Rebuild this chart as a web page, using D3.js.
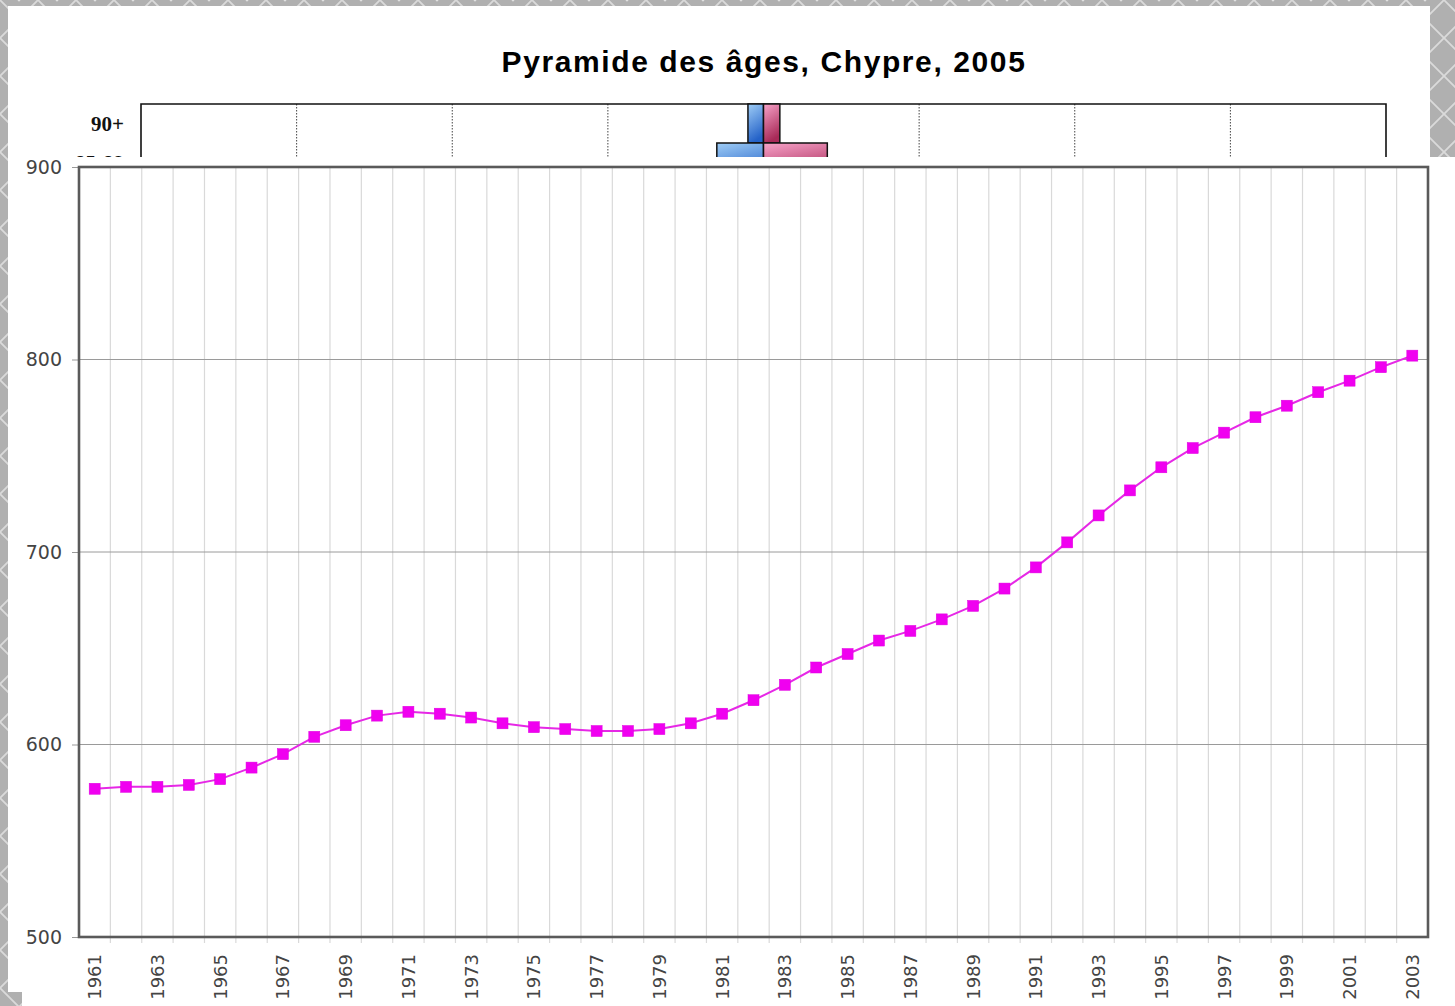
<!DOCTYPE html>
<html>
<head>
<meta charset="utf-8">
<script src="https://cdn.jsdelivr.net/npm/d3@7"></script>
<style>
  html, body { margin: 0; padding: 0; background: #b5b5b5; }
  svg { display: block; }
</style>
</head>
<body>
<svg id="chart" width="1455" height="1006"></svg>
<script>
// ---------------- DATA ----------------
const years = [1961,1962,1963,1964,1965,1966,1967,1968,1969,1970,
               1971,1972,1973,1974,1975,1976,1977,1978,1979,1980,
               1981,1982,1983,1984,1985,1986,1987,1988,1989,1990,
               1991,1992,1993,1994,1995,1996,1997,1998,1999,2000,
               2001,2002,2003];
const population = [577,578,578,579,582,588,595,604,610,615,
                    617,616,614,611,609,608,607,607,608,611,
                    616,623,631,640,647,654,659,665,672,681,
                    692,705,719,732,744,754,762,770,776,783,
                    789,796,802];
const yTicks = [500,600,700,800,900];
const xTickLabels = years.filter((d, i) => i % 2 === 0);

const pyramidTitle = "Pyramide des âges, Chypre, 2005";
const pyramidAges = ["90+", "85-89"];
const pyramidMale = [0.10, 0.30];
const pyramidFemale = [0.105, 0.41];
const pyramidTicks = [-4,-3,-2,-1,0,1,2,3,4];

// ---------------- DRAW ----------------
(function () {
const svg = d3.select("#chart");
const defs = svg.append("defs");

// background crosshatch pattern
const pat = defs.append("pattern").attr("id","bg").attr("patternUnits","userSpaceOnUse")
  .attr("width",38).attr("height",38);
pat.append("rect").attr("width",38).attr("height",38).attr("fill","#b0b0b0");
pat.append("path").attr("d","M0,0L38,38M38,0L0,38")
  .attr("stroke","#dadada").attr("stroke-width",1.8).attr("fill","none");
pat.append("circle").attr("cx",19).attr("cy",0).attr("r",1.4).attr("fill","#e0e0e0");
pat.append("circle").attr("cx",19).attr("cy",38).attr("r",1.4).attr("fill","#e0e0e0");
svg.append("rect").attr("width",1455).attr("height",1006).attr("fill","url(#bg)");

// gradients for pyramid bars
function grad(id, c1, c2) {
  const g = defs.append("linearGradient").attr("id", id)
    .attr("x1",0).attr("y1",0).attr("x2",0.3).attr("y2",1);
  g.append("stop").attr("offset","0%").attr("stop-color",c1);
  g.append("stop").attr("offset","100%").attr("stop-color",c2);
}
grad("gMale", "#9fcdf6", "#2462c8");
grad("gFemale", "#f7a3c9", "#a82a58");

// ---- pyramid panel (behind) ----
const pyr = svg.append("g");
pyr.append("rect").attr("x",8).attr("y",6).attr("width",1422).attr("height",986).attr("fill","#ffffff");
pyr.append("text").attr("x",764).attr("y",72).attr("text-anchor","middle")
  .attr("font-family","'Liberation Sans', Arial, sans-serif").attr("font-weight","bold")
  .attr("font-size",30).attr("letter-spacing","1.6px").attr("fill","#000").text(pyramidTitle);

const px = d3.scaleLinear().domain([-4,4]).range([141,1386]);
const py = d3.scaleBand().domain(pyramidAges).range([104, 104 + 39*pyramidAges.length]).padding(0);

// dotted grid
pyr.selectAll("line.pg").data(pyramidTicks.filter(t => t !== -4 && t !== 4 && t !== 0)).join("line")
  .attr("x1", d => px(d)).attr("x2", d => px(d)).attr("y1",104).attr("y2",180)
  .attr("stroke","#444").attr("stroke-width",1).attr("stroke-dasharray","1.5,1.5");
// frame
pyr.append("path").attr("d", `M${px(-4)},180V104H${px(4)}V180`).attr("fill","none")
  .attr("stroke","#111").attr("stroke-width",1.6);
// bars
pyr.selectAll("rect.m").data(pyramidAges).join("rect")
  .attr("x", (d,i) => px(-pyramidMale[i])).attr("y", d => py(d))
  .attr("width", (d,i) => px(0) - px(-pyramidMale[i])).attr("height", py.bandwidth())
  .attr("fill","url(#gMale)").attr("stroke","#111").attr("stroke-width",1.5);
pyr.selectAll("rect.f").data(pyramidAges).join("rect")
  .attr("x", px(0)).attr("y", d => py(d))
  .attr("width", (d,i) => px(pyramidFemale[i]) - px(0)).attr("height", py.bandwidth())
  .attr("fill","url(#gFemale)").attr("stroke","#111").attr("stroke-width",1.5);
// age labels
pyr.selectAll("text.age").data(pyramidAges).join("text")
  .attr("x",124).attr("y", d => py(d) + py.bandwidth()/2 + 7).attr("text-anchor","end")
  .attr("font-family","'Liberation Serif', 'Times New Roman', serif").attr("font-weight","bold")
  .attr("font-size",21).attr("fill","#111").text(d => d);

// ---- line chart panel (front) ----
const lc = svg.append("g");
lc.append("rect").attr("x",22).attr("y",157).attr("width",1433).attr("height",849).attr("fill","#ffffff");

const pL = 79, pR = 1428, pT = 167, pB = 937;
const x = d3.scaleBand().domain(years).range([pL, pR]).padding(0);
const y = d3.scaleLinear().domain([500,900]).range([pB, pT]);

// vertical grid at band boundaries
const bounds = years.slice(1).map(d => x(d));
lc.selectAll("line.vg").data(bounds).join("line")
  .attr("x1", d => d).attr("x2", d => d).attr("y1", pT).attr("y2", pB + 6)
  .attr("stroke","#d9d9d9").attr("stroke-width",1.2);
// horizontal grid
lc.selectAll("line.hg").data(yTicks.slice(1,-1)).join("line")
  .attr("x1", pL).attr("x2", pR).attr("y1", d => y(d)).attr("y2", d => y(d))
  .attr("stroke","#9a9a9a").attr("stroke-width",1);

// y axis
const yAxis = lc.append("g").attr("transform",`translate(${pL},0)`)
  .call(d3.axisLeft(y).tickValues(yTicks).tickSize(7).tickPadding(10));
yAxis.select(".domain").remove();
yAxis.selectAll(".tick line").attr("stroke","#999");
yAxis.selectAll(".tick text").attr("font-family","'DejaVu Sans', Verdana, sans-serif")
  .attr("font-size",19).attr("fill","#444");

// x axis labels (odd years)
const xAxis = lc.append("g").attr("transform",`translate(0,${pB})`)
  .call(d3.axisBottom(x).tickValues(xTickLabels).tickSize(0).tickPadding(0));
xAxis.select(".domain").remove();
xAxis.selectAll(".tick text")
  .attr("font-family","'DejaVu Sans', Verdana, sans-serif").attr("font-size",18).attr("fill","#444")
  .attr("text-anchor","end").attr("transform","rotate(-90)")
  .attr("x",-17).attr("y",0).attr("dy","0.36em");

// frame
lc.append("rect").attr("x",pL).attr("y",pT).attr("width",pR-pL).attr("height",pB-pT)
  .attr("fill","none").attr("stroke","#5a5a5a").attr("stroke-width",2.6);

// line + markers
const cx = d => x(d) + x.bandwidth()/2;
const line = d3.line().x((d,i) => cx(years[i])).y(d => y(d));
lc.append("path").datum(population).attr("d", line).attr("fill","none")
  .attr("stroke","#e628e6").attr("stroke-width",2);
lc.selectAll("rect.pt").data(population).join("rect")
  .attr("x",(d,i) => cx(years[i]) - 5.5).attr("y", d => y(d) - 5.5)
  .attr("width",11).attr("height",11).attr("fill","#f000f0").attr("stroke","#e000e0").attr("stroke-width",0.5);
})();
</script>
</body>
</html>
